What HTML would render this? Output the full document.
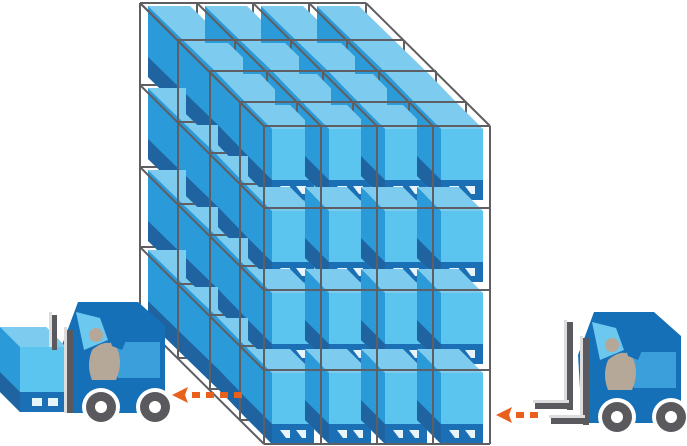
<!DOCTYPE html>
<html><head><meta charset="utf-8"><style>html,body{margin:0;padding:0;background:#fff;width:687px;height:446px;overflow:hidden}</style></head>
<body>
<svg id="s" width="687" height="446" viewBox="0 0 687 446" xmlns="http://www.w3.org/2000/svg">
<g id="rack"></g>
<defs>
<g id="fork">
  <polygon points="78,302 138,302 165,326 165,413 66,413 62,345" fill="#1570b8"/>
  <polygon points="76,312 100,318 108,340 84,350" fill="#6cc8ef"/>
  <polygon points="110,342 160,342 160,378 118,378" fill="#3a9fdb"/>
  <circle cx="96" cy="335" r="7" fill="#b5a898"/>
  <path d="M92,350 Q106,338 116,346 Q124,362 116,380 L92,380 Q86,365 92,350 Z" fill="#b5a898"/>
  <polygon points="104,318 138,312 122,350 112,346" fill="#1570b8"/>
  <circle cx="101" cy="407" r="19" fill="#fff"/>
  <circle cx="155" cy="407" r="19" fill="#fff"/>
  <circle cx="101" cy="407" r="15" fill="#5a595e"/>
  <circle cx="155" cy="407" r="15" fill="#5a595e"/>
  <circle cx="101" cy="407" r="6" fill="#fff"/>
  <circle cx="155" cy="407" r="6" fill="#fff"/>
</g>
</defs>
<use href="#fork"/>
<polygon points="0,327 46,327 66,347 66,412 20,412 0,392" fill="#2a9ad8"/>
<polygon points="0,327 46,327 66,347 20,347" fill="#7dcbee"/>
<rect x="20" y="347" width="46" height="45" fill="#5bc4ef"/>
<polygon points="0,372 20,392 20,412 0,392" fill="#1f64a0"/>
<rect x="20" y="392" width="46" height="20" fill="#1a6fb5"/>
<rect x="32" y="398" width="10" height="8" fill="#e8f4fb"/>
<rect x="48" y="398" width="10" height="8" fill="#e8f4fb"/>
<rect x="49" y="312" width="3" height="35" fill="#ddd"/>
<rect x="52" y="315" width="5" height="35" fill="#5a595e"/>
<rect x="64" y="327" width="3" height="86" fill="#ddd"/>
<rect x="67" y="330" width="6" height="83" fill="#5a595e"/>
<use href="#fork" transform="translate(516,10)"/>
<rect x="564" y="320" width="3" height="85" fill="#ddd"/>
<rect x="567" y="322" width="6" height="88" fill="#5a595e"/>
<rect x="580" y="336" width="3" height="84" fill="#ddd"/>
<rect x="583" y="338" width="6" height="87" fill="#5a595e"/>
<rect x="533" y="400" width="36" height="3" fill="#ddd"/>
<rect x="535" y="403" width="38" height="6" fill="#5a595e"/>
<rect x="549" y="415" width="36" height="3" fill="#ddd"/>
<rect x="551" y="418" width="38" height="6" fill="#5a595e"/>
<g fill="#e8601c">
  <polygon points="172,395 188,387 185,395 188,403"/>
  <rect x="192" y="392" width="8" height="6"/><rect x="206" y="392" width="8" height="6"/><rect x="220" y="392" width="8" height="6"/><rect x="234" y="392" width="8" height="6"/>
  <polygon points="496,415 512,407 509,415 512,423"/>
  <rect x="516" y="412" width="8" height="6"/><rect x="530" y="412" width="8" height="6"/>
</g>
</svg>
<script>
(function(){
var NS="http://www.w3.org/2000/svg",g=document.getElementById('rack');
function el(t,a){var e=document.createElementNS(NS,t);for(var k in a)e.setAttribute(k,a[k]);g.appendChild(e);return e;}
var F=[[140,3],[178,40],[210,71],[240,102],[264,126]];
var cols=[0,57,113,169,226],rows=[0,82,164,244,318];
function frame(x,y){
  for(var i=0;i<5;i++){el('line',{x1:x+cols[i],y1:y,x2:x+cols[i],y2:y+318,stroke:'#5f5f63','stroke-width':2});
   el('line',{x1:x,y1:y+rows[i],x2:x+226,y2:y+rows[i],stroke:'#5f5f63','stroke-width':2});}
}
function P(a){return a.map(function(p){return p[0]+','+p[1]}).join(' ');}
function box(cx,cy,dx,dy){
  var L=cx+8,R=cx+50,T=cy+3,M=cy+54,B=cy+74;
  el('polygon',{points:P([[L,T],[L+dx,T+dy],[R+dx,T+dy],[R,T]]),fill:'#7dcbee'});
  el('polygon',{points:P([[L,T],[L+dx,T+dy],[L+dx,B+dy],[L,B]]),fill:'#2a9ad8'});
  el('polygon',{points:P([[L,M],[L+dx,M+dy],[L+dx,B+dy],[L,B]]),fill:'#1f64a0'});
  el('rect',{x:L,y:T,width:R-L,height:M-T,fill:'#5bc4ef'});
  el('rect',{x:L,y:M,width:R-L,height:B-M,fill:'#1a6fb5'});
  el('rect',{x:L+8,y:M+6,width:10,height:8,fill:'#e8f4fb'});
  el('rect',{x:L+24,y:M+6,width:10,height:8,fill:'#e8f4fb'});
  el('polygon',{points:P([[L+8,M+6],[L+14,M+14],[L+8,M+14]]),fill:'#1a6fb5'});
  el('polygon',{points:P([[L+24,M+6],[L+30,M+14],[L+24,M+14]]),fill:'#1a6fb5'});
}
frame(F[0][0],F[0][1]);
for(var l=1;l<5;l++){
  var x=F[l][0],y=F[l][1],dx=F[l-1][0]-x,dy=F[l-1][1]-y;
  for(var r=0;r<4;r++)for(var c=0;c<4;c++)box(x+cols[c],y+rows[r],dx,dy);
  frame(x,y);
}
var a=F[0],b=F[4];
for(var i=0;i<5;i++){
  el('line',{x1:a[0]+cols[i],y1:a[1],x2:b[0]+cols[i],y2:b[1],stroke:'#5f5f63','stroke-width':2});
  el('line',{x1:a[0],y1:a[1]+rows[i],x2:b[0],y2:b[1]+rows[i],stroke:'#5f5f63','stroke-width':2});
}
})();
</script>
</body></html>
